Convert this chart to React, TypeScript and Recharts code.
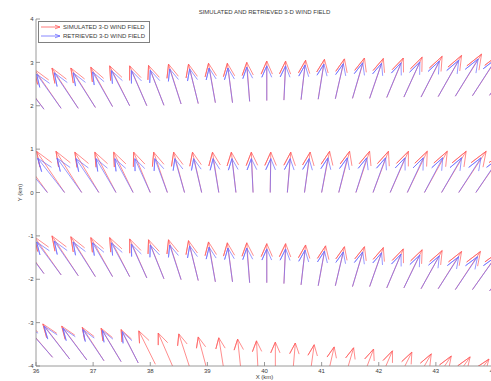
import React from "react";
import { ComposedChart, Line, XAxis, YAxis, Legend } from "recharts";

const TITLE = "SIMULATED AND RETRIEVED 3-D WIND FIELD";
const X_LABEL = "X (km)";
const Y_LABEL = "Y (km)";
const SIM_NAME = "SIMULATED 3-D WIND FIELD";
const RET_NAME = "RETRIEVED 3-D WIND FIELD";
const LEGEND_ORDER = [SIM_NAME, RET_NAME];

const X_TICKS = [36, 37, 38, 39, 40, 41, 42, 43, 44];
const Y_TICKS = [-4, -3, -2, -1, 0, 1, 2, 3, 4];

// grid columns (km)
const COL_X = [
  36.17, 36.47, 36.77, 37.07, 37.37, 37.67, 37.97, 38.27, 38.57, 38.87, 39.17, 39.47, 39.77, 40.07,
  40.37, 40.67, 40.97, 41.27, 41.57, 41.87, 42.17, 42.47, 42.77, 43.07, 43.37, 43.67, 43.97,
];

// row near y = 2
const SHIFT_TOP = -0.03;
const BASE_Y_TOP = [1.92, 1.94, 1.94, 1.96, 1.98, 2.0, 2.0, 2.01, 2.04, 2.05, 2.07, 2.07, 2.1, 2.12, 2.13, 2.14, 2.15, 2.16, 2.17, 2.17, 2.19, 2.2, 2.2, 2.21, 2.22, 2.23, 2.24];
const SIM_U_TOP = [-0.48, -0.47, -0.46, -0.43, -0.38, -0.35, -0.3, -0.27, -0.22, -0.17, -0.12, -0.09, -0.05, 0.0, 0.03, 0.08, 0.11, 0.16, 0.21, 0.24, 0.29, 0.32, 0.37, 0.41, 0.46, 0.48, 0.5];
const SIM_V_TOP = [0.85, 0.9, 0.93, 0.91, 0.91, 0.92, 0.92, 0.92, 0.92, 0.91, 0.91, 0.91, 0.9, 0.91, 0.9, 0.91, 0.92, 0.92, 0.93, 0.92, 0.91, 0.92, 0.94, 0.95, 0.97, 0.97, 0.98];
const RET_U_TOP = [-0.44, -0.43, -0.42, -0.39, -0.35, -0.32, -0.27, -0.24, -0.2, -0.15, -0.11, -0.08, -0.05, 0.0, 0.03, 0.07, 0.1, 0.14, 0.18, 0.21, 0.25, 0.28, 0.32, 0.36, 0.4, 0.42, 0.44];
const RET_V_TOP = [0.75, 0.79, 0.82, 0.8, 0.8, 0.81, 0.81, 0.81, 0.81, 0.8, 0.8, 0.8, 0.79, 0.8, 0.79, 0.8, 0.81, 0.81, 0.82, 0.81, 0.8, 0.81, 0.83, 0.84, 0.86, 0.86, 0.87];

// row at y = 0
const SHIFT_MID = 0.03;
const BASE_Y_MID = [0, 0, 0, 0, 0, 0, 0, 0, 0, 0, 0, 0, 0, 0, 0, 0, 0, 0, 0, 0, 0, 0, 0, 0, 0, 0, 0];
const SIM_U_MID = [-0.52, -0.49, -0.45, -0.42, -0.37, -0.34, -0.29, -0.24, -0.19, -0.16, -0.11, -0.08, -0.03, 0.01, 0.06, 0.1, 0.14, 0.19, 0.24, 0.27, 0.32, 0.35, 0.4, 0.43, 0.48, 0.5, 0.52];
const SIM_V_MID = [0.95, 0.95, 0.95, 0.93, 0.93, 0.93, 0.93, 0.93, 0.93, 0.93, 0.93, 0.93, 0.93, 0.93, 0.93, 0.93, 0.95, 0.95, 0.95, 0.95, 0.95, 0.95, 0.95, 0.95, 0.95, 0.95, 0.95];
const RET_U_MID = [-0.5, -0.47, -0.43, -0.4, -0.35, -0.32, -0.27, -0.22, -0.17, -0.14, -0.1, -0.07, -0.03, 0.01, 0.05, 0.08, 0.11, 0.15, 0.19, 0.22, 0.26, 0.28, 0.32, 0.35, 0.39, 0.41, 0.43];
const RET_V_MID = [0.79, 0.79, 0.79, 0.78, 0.78, 0.78, 0.78, 0.78, 0.78, 0.78, 0.78, 0.78, 0.78, 0.78, 0.78, 0.78, 0.8, 0.8, 0.8, 0.8, 0.8, 0.8, 0.8, 0.8, 0.8, 0.8, 0.8];

// row near y = -2
const SHIFT_LOW = -0.03;
const BASE_Y_LOW = [-1.87, -1.9, -1.92, -1.94, -1.94, -1.94, -1.97, -1.99, -2.01, -2.03, -2.06, -2.06, -2.08, -2.08, -2.1, -2.13, -2.15, -2.15, -2.17, -2.17, -2.2, -2.2, -2.22, -2.22, -2.24, -2.24, -2.27];
const SIM_U_LOW = [-0.46, -0.47, -0.46, -0.43, -0.38, -0.35, -0.3, -0.27, -0.22, -0.17, -0.12, -0.09, -0.05, 0.0, 0.03, 0.08, 0.13, 0.16, 0.21, 0.24, 0.29, 0.32, 0.37, 0.41, 0.44, 0.47, 0.5];
const SIM_V_LOW = [0.85, 0.88, 0.92, 0.92, 0.9, 0.9, 0.9, 0.9, 0.92, 0.92, 0.92, 0.9, 0.92, 0.9, 0.92, 0.92, 0.92, 0.9, 0.92, 0.9, 0.9, 0.88, 0.88, 0.86, 0.88, 0.88, 0.88];
const RET_U_LOW = [-0.42, -0.43, -0.42, -0.39, -0.35, -0.32, -0.27, -0.24, -0.2, -0.15, -0.11, -0.08, -0.05, 0.0, 0.03, 0.07, 0.11, 0.14, 0.18, 0.21, 0.25, 0.28, 0.32, 0.36, 0.39, 0.41, 0.44];
const RET_V_LOW = [0.73, 0.76, 0.8, 0.8, 0.78, 0.78, 0.78, 0.78, 0.8, 0.8, 0.8, 0.78, 0.8, 0.78, 0.8, 0.8, 0.8, 0.78, 0.8, 0.78, 0.78, 0.76, 0.76, 0.74, 0.76, 0.76, 0.76];

// row near y = -4 (retrieved only on the left)
const SHIFT_BOT = 0.12;
const BASE_Y_BOT = [-3.8, -3.84, -3.86, -3.88, -3.9, -3.93, -3.96, -4.0, -4.03, -4.07, -4.1, -4.13, -4.17, -4.2, -4.23, -4.27, -4.31, -4.34, -4.37, -4.41, -4.44, -4.48, -4.52, -4.55, -4.59, -4.62, -4.66];
const SIM_U_BOT = [-0.52, -0.47, -0.44, -0.38, -0.35, -0.3, -0.29, -0.25, -0.19, -0.15, -0.09, -0.06, -0.03, 0.0, 0.05, 0.08, 0.13, 0.17, 0.22, 0.25, 0.29, 0.33, 0.38, 0.41, 0.44, 0.47, 0.5];
const SIM_V_BOT = [0.8, 0.81, 0.78, 0.77, 0.77, 0.77, 0.77, 0.76, 0.77, 0.74, 0.75, 0.75, 0.75, 0.75, 0.76, 0.76, 0.75, 0.76, 0.76, 0.76, 0.76, 0.76, 0.75, 0.76, 0.75, 0.75, 0.76];
const RET_U_BOT = [-0.5, -0.45, -0.42, -0.37, -0.33, -0.28, null, null, null, null, null, null, null, null, null, null, null, null, null, null, null, null, null, null, null, null, null];
const RET_V_BOT = [0.75, 0.76, 0.73, 0.72, 0.72, 0.72, null, null, null, null, null, null, null, null, null, null, null, null, null, null, null, null, null, null, null, null, null];

// quiver arrow head shape (same as matlab defaults)
const HEAD_LEN = 0.33;
const HEAD_WIDTH = 0.33;

const FONT = '"Liberation Sans", Arial, Helvetica, sans-serif';
const AXIS = "#808080";
const TEXT = "#3a3a3a";
const RED = "#ff5c5c";
const BLUE = "#6b6bff";

type Pt = { x: number; y: number | null };

function quiver(shift: number, ys: number[], us: (number | null)[], vs: (number | null)[]): Pt[] {
  const pts: Pt[] = [];
  COL_X.forEach((cx, i) => {
    const u = us[i];
    const v = vs[i];
    if (u == null || v == null) return;
    const x = cx + shift;
    const y = ys[i];
    const hx = x + u;
    const hy = y + v;
    pts.push(
      { x, y },
      { x: hx, y: hy },
      { x: hx - HEAD_LEN * (u + HEAD_WIDTH * v), y: hy - HEAD_LEN * (v - HEAD_WIDTH * u) },
      { x: hx, y: hy },
      { x: hx - HEAD_LEN * (u - HEAD_WIDTH * v), y: hy - HEAD_LEN * (v + HEAD_WIDTH * u) },
      { x: hx, y: null }
    );
  });
  return pts;
}

const simData = [
  ...quiver(SHIFT_TOP, BASE_Y_TOP, SIM_U_TOP, SIM_V_TOP),
  ...quiver(SHIFT_MID, BASE_Y_MID, SIM_U_MID, SIM_V_MID),
  ...quiver(SHIFT_LOW, BASE_Y_LOW, SIM_U_LOW, SIM_V_LOW),
  ...quiver(SHIFT_BOT, BASE_Y_BOT, SIM_U_BOT, SIM_V_BOT),
];
const retData = [
  ...quiver(SHIFT_TOP, BASE_Y_TOP, RET_U_TOP, RET_V_TOP),
  ...quiver(SHIFT_MID, BASE_Y_MID, RET_U_MID, RET_V_MID),
  ...quiver(SHIFT_LOW, BASE_Y_LOW, RET_U_LOW, RET_V_LOW),
  ...quiver(SHIFT_BOT, BASE_Y_BOT, RET_U_BOT, RET_V_BOT),
];

const BottomTick = (p: any) => (
  <g>
    <line x1={p.x} y1={p.y} x2={p.x} y2={p.y - 4} stroke={AXIS} strokeWidth={0.8} />
    <text x={p.x} y={p.y + 6.5} textAnchor="middle" fontSize={6} fill={TEXT} fontFamily={FONT}>
      {p.payload.value}
    </text>
  </g>
);
const TopTick = (p: any) => (
  <line x1={p.x} y1={p.y} x2={p.x} y2={p.y + 4} stroke={AXIS} strokeWidth={0.8} />
);
const LeftTick = (p: any) => (
  <g>
    <line x1={p.x} y1={p.y} x2={p.x + 4} y2={p.y} stroke={AXIS} strokeWidth={0.8} />
    <text x={p.x - 2.5} y={p.y + 2.2} textAnchor="end" fontSize={6} fill={TEXT} fontFamily={FONT}>
      {p.payload.value}
    </text>
  </g>
);
const RightTick = (p: any) => (
  <line x1={p.x} y1={p.y} x2={p.x - 4} y2={p.y} stroke={AXIS} strokeWidth={0.8} />
);

const XLabel = (p: any) => {
  const vb = p.viewBox || {};
  return (
    <text x={vb.x + vb.width / 2} y={vb.y + 13} textAnchor="middle" fontSize={6} fill={TEXT} fontFamily={FONT}>
      {X_LABEL}
    </text>
  );
};
const YLabel = (p: any) => {
  const vb = p.viewBox || {};
  const cx = vb.x + 22;
  const cy = vb.y + vb.height / 2;
  return (
    <text x={cx} y={cy} transform={`rotate(-90 ${cx} ${cy})`} textAnchor="middle" fontSize={6} fill={TEXT} fontFamily={FONT}>
      {Y_LABEL}
    </text>
  );
};

const LegendBox = ({ payload }: any) => {
  const items = LEGEND_ORDER.map((name) => (payload || []).find((e: any) => e.value === name)).filter(Boolean);
  return (
    <div
      style={{
        border: `1px solid ${AXIS}`,
        background: "#fff",
        padding: "1px 4px 2px 2px",
        fontFamily: FONT,
        fontSize: 6,
        color: TEXT,
        lineHeight: "8.5px",
        whiteSpace: "nowrap",
      }}
    >
      {items.map((e: any) => (
        <div key={e.value} style={{ display: "flex", alignItems: "center", height: 8.5 }}>
          <svg width={20} height={8} style={{ marginRight: 2 }}>
            <line x1={0} y1={4} x2={19} y2={4} stroke={e.color} strokeWidth={0.8} />
            <line x1={19} y1={4} x2={14} y2={2.2} stroke={e.color} strokeWidth={0.8} />
            <line x1={19} y1={4} x2={14} y2={5.8} stroke={e.color} strokeWidth={0.8} />
          </svg>
          <span>{e.value}</span>
        </div>
      ))}
    </div>
  );
};

export default function App() {
  return (
    <div style={{ position: "absolute", left: 0, top: 0, width: 491, height: 381, overflow: "hidden", background: "#fff" }}>
      <div
        style={{
          position: "absolute",
          left: 36,
          top: 8,
          width: 457,
          textAlign: "center",
          fontFamily: FONT,
          fontSize: 6,
          lineHeight: "8px",
          color: TEXT,
          zIndex: 1,
        }}
      >
        {TITLE}
      </div>
      <ComposedChart width={500} height={381} margin={{ top: 19, right: 7, bottom: 0, left: 0 }}>
        <XAxis
          dataKey="x"
          type="number"
          domain={[36, 44]}
          ticks={X_TICKS}
          interval={0}
          allowDataOverflow
          height={15}
          tickSize={0}
          tickMargin={0}
          tick={<BottomTick />}
          axisLine={{ stroke: AXIS, strokeWidth: 0.8 }}
          label={<XLabel />}
        />
        <XAxis
          xAxisId="top"
          orientation="top"
          dataKey="x"
          type="number"
          domain={[36, 44]}
          ticks={X_TICKS}
          interval={0}
          allowDataOverflow
          height={0}
          tickSize={0}
          tickMargin={0}
          tick={<TopTick />}
          axisLine={{ stroke: AXIS, strokeWidth: 0.8 }}
        />
        <YAxis
          type="number"
          domain={[-4, 4]}
          ticks={Y_TICKS}
          interval={0}
          allowDataOverflow
          width={36}
          tickSize={0}
          tickMargin={0}
          tick={<LeftTick />}
          axisLine={{ stroke: AXIS, strokeWidth: 0.8 }}
          label={<YLabel />}
        />
        <YAxis
          yAxisId="right"
          orientation="right"
          type="number"
          domain={[-4, 4]}
          ticks={Y_TICKS}
          interval={0}
          allowDataOverflow
          width={0}
          tickSize={0}
          tickMargin={0}
          tick={<RightTick />}
          axisLine={{ stroke: AXIS, strokeWidth: 0.8 }}
        />
        <Legend
          layout="horizontal"
          align="center"
          verticalAlign="middle"
          wrapperStyle={{ left: 38, top: 21, width: "auto", height: "auto" }}
          content={<LegendBox />}
        />
        <Line
          name={SIM_NAME}
          data={simData}
          dataKey="y"
          type="linear"
          stroke={RED}
          strokeWidth={0.7}
          dot={false}
          activeDot={false}
          connectNulls={false}
          isAnimationActive={false}
        />
        <Line
          name={RET_NAME}
          data={retData}
          dataKey="y"
          type="linear"
          stroke={BLUE}
          strokeWidth={0.7}
          dot={false}
          activeDot={false}
          connectNulls={false}
          isAnimationActive={false}
        />
      </ComposedChart>
    </div>
  );
}
